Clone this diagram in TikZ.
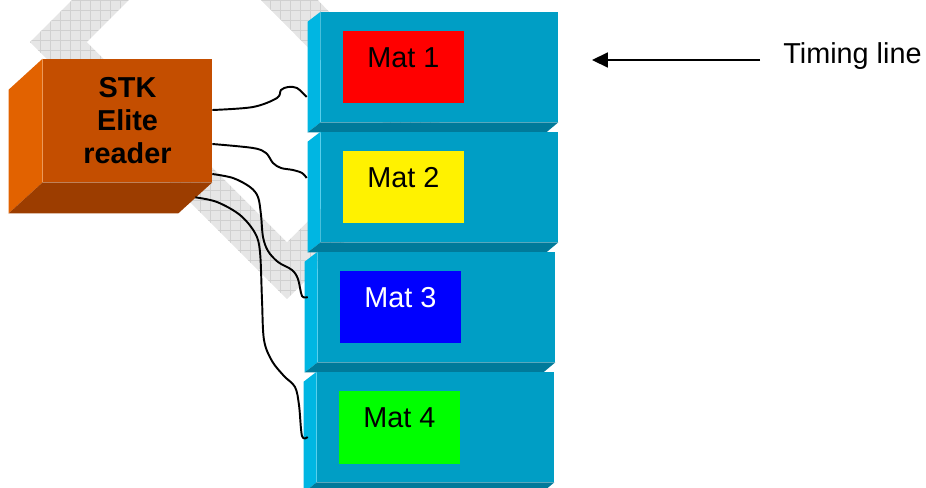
\documentclass[tikz,border=0pt]{standalone}
\usepackage{fontspec}
\setmainfont{Liberation Sans}
\usetikzlibrary{arrows.meta,calc,positioning}

\definecolor{boxfront}{RGB}{0,158,197}
\definecolor{boxside}{RGB}{0,182,226}
\definecolor{boxunder}{RGB}{0,122,154}
\definecolor{readerfront}{RGB}{196,78,0}
\definecolor{readerside}{RGB}{226,98,0}
\definecolor{readerunder}{RGB}{156,61,0}
\definecolor{wmfill}{RGB}{230,230,230}
\definecolor{wmline}{RGB}{208,208,208}

\tikzset{
    front/.style={fill=boxfront, minimum width=4.74cm, minimum height=2.2cm, inner sep=0pt},
    side/.style={fill=boxside},
    under/.style={fill=boxunder},
    reader/.style={fill=readerfront, minimum width=3.38cm, minimum height=2.46cm, inner sep=0pt, align=center, font=\fontsize{16.4pt}{18.7pt}\selectfont\bfseries},
    mat/.style={minimum width=2.42cm, minimum height=1.46cm, inner sep=0pt, text height=12pt, text depth=12pt},
    wire/.style={line width=1.1pt, line join=round},
    timing/.style={-{Triangle[length=9pt, width=8.5pt]}, line width=0.9pt},
    gridline/.style={wmline, line width=0.5pt}
}

\begin{document}
\begin{tikzpicture}[x=0.02cm, y=-0.02cm, font=\fontsize{16.4pt}{18.7pt}\selectfont]
    \useasboundingbox (0,0) rectangle (926,487);

    % grey grid band in the background
    \begin{scope}
        \clip (30,42) -- (195,-123) -- (452,135) -- (287,299) -- cycle;
        \fill[wmfill] (0,-130) rectangle (470,310);
        \foreach \g in {0,10,...,470}
            \draw[gridline] (\g,-130) -- (\g,310);
        \foreach \g in {-130,-120,...,310}
            \draw[gridline] (0,\g) -- (470,\g);
    \end{scope}
    \fill[white] (87,42) -- (195,-66) -- (395,135) -- (287,242) -- cycle;

    % the reader
    \node[reader] (reader) at (127.5,120.5) {STK\\Elite\\reader};
    \fill[readerside] (reader.north west) -- ++(-34,31) -- ($(reader.south west)+(-34,31)$) -- (reader.south west) -- cycle;
    \fill[readerunder] (reader.south west) -- (reader.south east) -- ++(-34,31) -- ($(reader.south west)+(-34,31)$) -- cycle;

    % stacked mats
    \foreach \n/\x/\y in {1/439.5/67, 2/439.5/187, 3/436.5/307, 4/435.5/427} {
        \node[front] (box\n) at (\x,\y) {};
        \fill[side] (box\n.north west) -- ++(-13,10) -- ($(box\n.south west)+(-13,10)$) -- (box\n.south west) -- cycle;
        \fill[under] (box\n.south west) -- (box\n.south east) -- ++(-12,10) -- ($(box\n.south west)+(-13,10)$) -- cycle;
    }
    \foreach \n/\c/\t in {1/red/black, 2/yellow/black, 3/blue/white, 4/green/black}
        \node[mat, fill=\c, text=\t] (mat\n) at ($(box\n)+(-36,0)$) {Mat \n};

    % cables
    \draw[wire] plot[smooth, tension=0.55] coordinates {($(reader.east)+(0,-10.5)$) (253,107) (277,98) (281,90) (288,87) (297,88) ($(box1.west)+(-14,30)$)};
    \draw[wire] plot[smooth, tension=0.55] coordinates {($(reader.east)+(0,23.5)$) (253,148) (266,153) (273,163) (281,168) (293,170) (302,173) ($(box2.west)+(-14,-9)$)};
    \draw[wire] plot[smooth, tension=0.55] coordinates {($(reader.east)+(0,53.5)$) (233,178) (250,187) (258,197) (261,215) (263,237) (268,251) (278,262) (292,270) (298,279) (302,296) ($(box3.west)+(-10,-10)$)};
    \draw[wire] plot[smooth, tension=0.55] coordinates {($(reader.south east)+(-17,15)$) (217,202) (240,215) (255,233) (260,252) (262,300) (264,340) (272,361) (284,376) (295,387) (299,405) (302,436) ($(box4.west)+(-9,10)$)};

    % timing arrow
    \node[inner sep=0pt, anchor=base west] (timing) at (783,63) {Timing line};
    \coordinate (tl) at (592,60);
    \draw[timing] ($(timing.west |- tl)+(-23,0)$) -- (tl);
\end{tikzpicture}
\end{document}
